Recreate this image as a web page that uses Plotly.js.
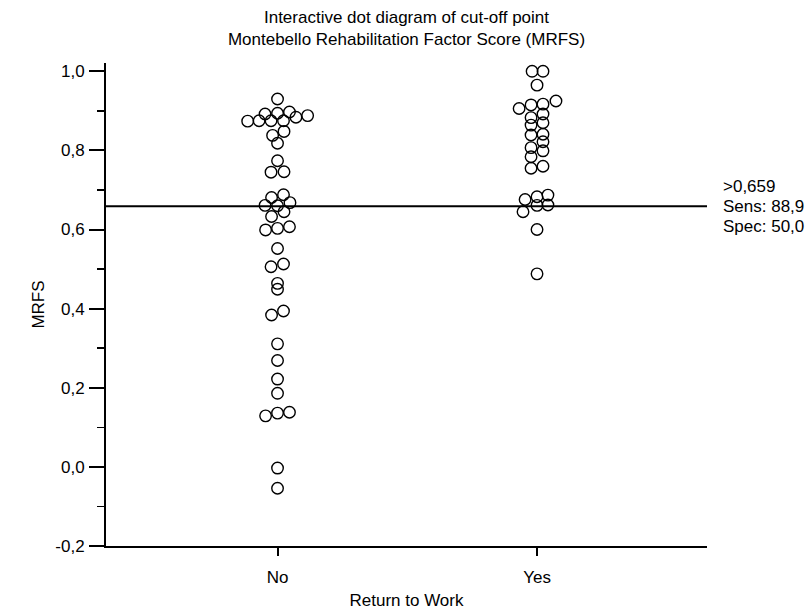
<!DOCTYPE html>
<html>
<head>
<meta charset="utf-8">
<script src="https://cdn.plot.ly/plotly-3.0.1.min.js"></script>
<style>html,body{margin:0;padding:0;background:#fff;}#chart{width:811px;height:612px;}</style>
</head>
<body>
<div id="chart"></div>
<script>
// Categories
var categories = ["No", "Yes"];

// MRFS values, "No" group
var noValues = [0.930, 0.874, 0.875, 0.892, 0.875, 0.894, 0.875, 0.897, 0.884, 0.888,
  0.838, 0.848, 0.818, 0.774, 0.745, 0.746,
  0.681, 0.688, 0.661, 0.660, 0.668, 0.645, 0.633,
  0.599, 0.603, 0.607, 0.552, 0.506, 0.513, 0.464, 0.449, 0.384, 0.394,
  0.311, 0.269, 0.222, 0.186, 0.129, 0.136, 0.138, -0.003, -0.054];
// horizontal dot-spread of each "No" dot, in x-axis units
var noJitter = [0, -0.115, -0.071, -0.048, -0.025, 0, 0.023, 0.046, 0.071, 0.116,
  -0.019, 0.025, 0, 0, -0.025, 0.025,
  -0.023, 0.023, -0.048, 0, 0.048, 0.025, -0.023,
  -0.046, 0, 0.046, 0, -0.025, 0.023, 0, 0, -0.023, 0.023,
  0, 0, 0, 0, -0.046, 0, 0.046, 0, 0];

// MRFS values, "Yes" group
var yesValues = [1.000, 1.000, 0.965, 0.906, 0.915, 0.917, 0.925,
  0.883, 0.892, 0.864, 0.870, 0.839, 0.841, 0.822, 0.807, 0.799, 0.784, 0.755, 0.760,
  0.676, 0.683, 0.687, 0.645, 0.661, 0.662, 0.600, 0.488];
var yesJitter = [-0.019, 0.023, 0, -0.069, -0.023, 0.023, 0.073,
  -0.023, 0.023, -0.023, 0.023, -0.023, 0.023, 0.023, -0.023, 0.023, -0.023, -0.023, 0.023,
  -0.046, 0, 0.042, -0.054, 0, 0.042, 0, 0];

// Cut-off criterion
var cutoff = 0.659;
var cutoffLabels = [">0,659", "Sens: 88,9", "Spec: 50,0"];

// Axis ticks
var yTickVals = [-0.2, 0, 0.2, 0.4, 0.6, 0.8, 1.0];
var yTickText = ["-0,2", "0,0", "0,2", "0,4", "0,6", "0,8", "1,0"];
var yMinorVals = [-0.1, 0.1, 0.3, 0.5, 0.7, 0.9];

var titleText = "Interactive dot diagram of cut-off point<br>Montebello Rehabilitation Factor Score (MRFS)";

var FONT = "Liberation Sans, Arial, sans-serif";
var FS = 17;

function groupTrace(idx, vals, jit) {
  return {
    type: "scatter",
    mode: "markers",
    x: vals.map(function (v, i) { return idx + jit[i]; }),
    y: vals,
    name: categories[idx],
    marker: { symbol: "circle-open", size: 11.5, color: "#000", line: { width: 1.4, color: "#000" } },
    hoverinfo: "y",
    cliponaxis: false
  };
}

var data = [groupTrace(0, noValues, noJitter), groupTrace(1, yesValues, yesJitter)];

var labelShifts = [20, 0, -20];
var annotations = cutoffLabels.map(function (t, i) {
  return {
    xref: "paper", x: 1.023, xanchor: "left",
    yref: "y", y: cutoff, yanchor: "middle", yshift: labelShifts[i],
    text: t, align: "left", showarrow: false,
    font: { family: FONT, size: FS, color: "#000" }
  };
});

var layout = {
  width: 811, height: 612,
  paper_bgcolor: "#fff", plot_bgcolor: "#fff",
  showlegend: false,
  font: { family: FONT, size: FS, color: "#000" },
  margin: { l: 106, r: 104, t: 63, b: 66, pad: 0 },
  title: {
    text: titleText,
    font: { family: FONT, size: FS, color: "#000" },
    x: 0.5, xref: "paper", xanchor: "center",
    y: 0.963, yref: "container", yanchor: "top"
  },
  xaxis: {
    range: [-0.661, 1.655],
    tickmode: "array", tickvals: [0, 1], ticktext: categories,
    ticks: "outside", ticklen: 8, tickwidth: 2, tickcolor: "#000",
    ticklabelstandoff: 7,
    showline: true, linewidth: 2, linecolor: "#000",
    showgrid: false, zeroline: false,
    tickfont: { family: FONT, size: FS, color: "#000" },
    title: { text: "Return to Work", font: { family: FONT, size: FS, color: "#000" }, standoff: 8 }
  },
  yaxis: {
    range: [-0.2, 1.021],
    tickmode: "array", tickvals: yTickVals, ticktext: yTickText,
    ticks: "outside", ticklen: 15, tickwidth: 2, tickcolor: "#000",
    ticklabelstandoff: 1,
    minor: { tickmode: "array", tickvals: yMinorVals, ticks: "outside", ticklen: 7, tickwidth: 1.5, tickcolor: "#000", showgrid: false },
    showline: true, linewidth: 2, linecolor: "#000",
    showgrid: false, zeroline: false,
    tickfont: { family: FONT, size: FS, color: "#000" },
    title: { text: "MRFS", font: { family: FONT, size: FS, color: "#000" }, standoff: 6 }
  },
  shapes: [{
    type: "line", xref: "paper", x0: 0, x1: 1, yref: "y", y0: cutoff, y1: cutoff,
    line: { color: "#000", width: 2 }
  }],
  annotations: annotations
};

Plotly.newPlot("chart", data, layout, { displayModeBar: false, staticPlot: true });
</script>
</body>
</html>
